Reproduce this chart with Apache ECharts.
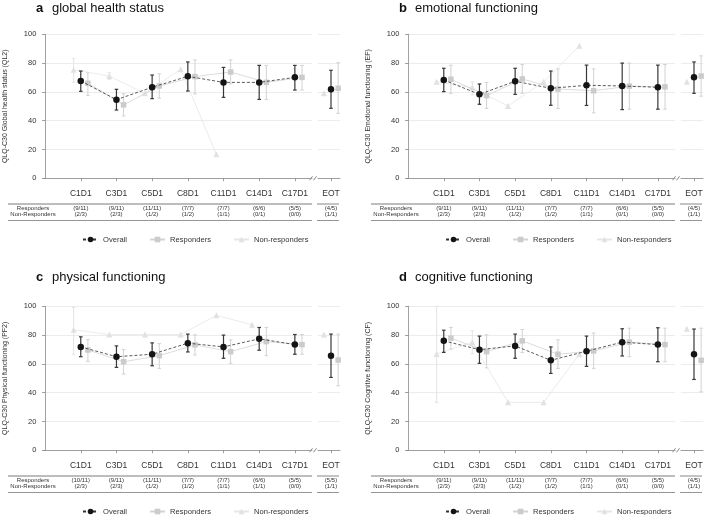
<!DOCTYPE html>
<html><head><meta charset="utf-8">
<script src="https://cdn.jsdelivr.net/npm/echarts@6/dist/echarts.min.js"></script>
<style>html,body{margin:0;padding:0;background:#fff}#c{width:706px;height:515px}</style>
</head><body><div id="c"></div>
<script>
// ---------- DATA ----------
const categories = ['C1D1','C3D1','C5D1','C8D1','C11D1','C14D1','C17D1','EOT'];
const seriesNames = ['Overall','Responders','Non-responders'];
const panelLetters = ['a','b','c','d'];
const panelTitles = ['global health status','emotional functioning','physical functioning','cognitive functioning'];
const yAxisNames = ['QLQ-C30 Global health status (QL2)','QLQ-C30 Emotional functioning (EF)','QLQ-C30 Physical functioning (PF2)','QLQ-C30 Cognitive functioning (CF)'];
const tableRowLabels = ['Responders','Non-Responders'];

// a: global health status
const ghsOverall   = [67.6, 54.6, 63.2, 70.8, 66.6, 66.6, 70.1, 61.8];
const ghsOverallLo = [60.4, 47.4, 55.3, 60.6, 56.2, 54.8, 61.3, 48.6];
const ghsOverallHi = [74.5, 61.8, 71.7, 80.8, 77.0, 78.4, 78.4, 75.0];
const ghsResp      = [66.0, 51.0, 64.1, 70.6, 73.8, 66.6, 70.1, 62.5];
const ghsRespLo    = [57.6, 43.3, 55.6, 58.6, 65.5, 54.8, 61.3, 45.1];
const ghsRespHi    = [73.4, 58.7, 72.6, 82.2, 82.2, 78.4, 78.4, 80.3];
const ghsNonResp   = [75.4, 71.0, 59.0, 75.7, 16.7, null, null, 59.0];
const ghsNonRespLo = [66.7, 68.8, null, null, null, null, null, null];
const ghsNonRespHi = [83.3, 73.4, null, null, null, null, null, null];
const ghsRespN     = ['(9/11)','(9/11)','(11/11)','(7/7)','(7/7)','(6/6)','(5/5)','(4/5)'];
const ghsNonRespN  = ['(2/3)','(2/3)','(1/2)','(1/2)','(1/1)','(0/1)','(0/0)','(1/1)'];

// b: emotional functioning
const efOverall    = [68.3, 58.3, 67.4, 62.5, 64.6, 64.1, 63.2, 70.1];
const efOverallLo  = [60.2, 51.4, 58.3, 50.7, 50.6, 47.7, 48.0, 59.0];
const efOverallHi  = [76.4, 65.5, 76.4, 74.5, 78.6, 80.0, 78.6, 80.8];
const efResp       = [68.8, 57.4, 69.0, 62.0, 60.8, 64.0, 63.5, 71.0];
const efRespLo     = [59.0, 48.5, 59.0, 48.5, 45.5, 48.0, 48.0, 57.0];
const efRespHi     = [78.5, 66.5, 79.0, 76.0, 76.0, 80.0, 79.0, 85.0];
const efNonResp    = [67.1, 63.0, 50.2, 67.1, 92.1, null, null, 67.1];
const efNonRespLo  = [null, 58.0, null, null, null, null, null, null];
const efNonRespHi  = [null, 67.0, null, null, null, null, null, null];
const efRespN      = ['(9/11)','(9/11)','(11/11)','(7/7)','(7/7)','(6/6)','(5/5)','(4/5)'];
const efNonRespN   = ['(2/3)','(2/3)','(1/2)','(1/2)','(1/1)','(0/1)','(0/0)','(1/1)'];

// c: physical functioning
const pfOverall    = [71.8, 65.0, 66.7, 74.4, 71.8, 77.4, 73.4, 65.7];
const pfOverallLo  = [65.0, 57.6, 58.7, 68.3, 63.9, 69.5, 66.7, 50.6];
const pfOverallHi  = [78.8, 72.5, 74.6, 80.7, 80.0, 85.3, 80.4, 80.7];
const pfResp       = [69.7, 61.5, 65.7, 73.2, 68.5, 75.5, 73.4, 62.7];
const pfRespLo     = [61.8, 52.9, 56.9, 66.2, 60.4, 65.7, 66.7, 44.8];
const pfRespHi     = [76.9, 69.9, 74.1, 80.2, 76.7, 85.3, 80.4, 80.7];
const pfNonResp    = [83.7, 80.4, 80.4, 80.4, 93.7, 87.2, null, 80.4];
const pfNonRespLo  = [66.7, null, null, null, null, null, null, null];
const pfNonRespHi  = [99.3, null, null, null, null, null, null, null];
const pfRespN      = ['(10/11)','(9/11)','(11/11)','(7/7)','(7/7)','(6/6)','(5/5)','(5/5)'];
const pfNonRespN   = ['(2/3)','(2/3)','(1/2)','(1/2)','(1/1)','(1/1)','(0/0)','(1/1)'];

// d: cognitive functioning
const cfOverall    = [76.0, 69.9, 72.5, 62.5, 68.8, 75.1, 73.4, 66.7];
const cfOverallLo  = [68.0, 60.4, 63.9, 53.4, 58.3, 65.5, 61.5, 49.2];
const cfOverallHi  = [83.4, 79.3, 80.7, 71.8, 79.3, 84.4, 85.1, 84.2];
const cfResp       = [77.9, 68.5, 76.0, 66.7, 69.0, 75.1, 73.4, 62.5];
const cfRespLo     = [70.2, 57.3, 68.0, 56.9, 56.9, 65.0, 61.5, 40.6];
const cfRespHi     = [85.3, 80.2, 83.9, 76.7, 81.4, 84.8, 84.8, 84.8];
const cfNonResp    = [66.9, 75.1, 33.3, 33.3, 66.7, null, null, 84.4];
const cfNonRespLo  = [33.3, 67.0, null, null, null, null, null, null];
const cfNonRespHi  = [100.0, 83.0, null, null, null, null, null, null];
const cfRespN      = ['(9/11)','(9/11)','(11/11)','(7/7)','(7/7)','(6/6)','(5/5)','(4/5)'];
const cfNonRespN   = ['(2/3)','(2/3)','(1/2)','(1/2)','(1/1)','(0/1)','(0/0)','(1/1)'];

// ---------- BUILD ----------
const FONT = 'Liberation Sans, Arial, sans-serif';
const panels = [
  {groups:[[ghsOverall,ghsOverallLo,ghsOverallHi],[ghsResp,ghsRespLo,ghsRespHi],[ghsNonResp,ghsNonRespLo,ghsNonRespHi]], rn:ghsRespN, nn:ghsNonRespN},
  {groups:[[efOverall,efOverallLo,efOverallHi],[efResp,efRespLo,efRespHi],[efNonResp,efNonRespLo,efNonRespHi]], rn:efRespN, nn:efNonRespN},
  {groups:[[pfOverall,pfOverallLo,pfOverallHi],[pfResp,pfRespLo,pfRespHi],[pfNonResp,pfNonRespLo,pfNonRespHi]], rn:pfRespN, nn:pfNonRespN},
  {groups:[[cfOverall,cfOverallLo,cfOverallHi],[cfResp,cfRespLo,cfRespHi],[cfNonResp,cfNonRespLo,cfNonRespHi]], rn:cfRespN, nn:cfNonRespN}
];
const OX = [0, 363, 0, 363], OY = [0, 0, 272, 272];
const TITLE_Y = [8.5, 8.5, 277.5, 277.5];
const sty = [
  {color:'#141414', line:'#333333', type:[3,2], symbol:'circle', size:6.5, err:'#383838', errW:1.2, z:6, off:0},
  {color:'#cbcbcb', line:'#d3d3d3', type:'solid', symbol:'rect', size:5.5, err:'#d2d2d2', errW:1, z:4, off:0.2},
  {color:'#e1e1e1', line:'#e6e6e6', type:'solid', symbol:'triangle', size:6, err:'#e4e4e4', errW:1, z:3, off:-0.2}
];
const grids = [], xAxes = [], yAxes = [], series = [], legends = [], graphics = [];
const rich = {
  c:{fontSize:8.5, lineHeight:10, color:'#333', fontFamily:FONT},
  s:{fontSize:2, lineHeight:7.4},
  t:{fontSize:6, lineHeight:6, color:'#333', fontFamily:FONT}
};
function errRender(color, w){
  return function(params, api){
    const x = api.value(0), lo = api.value(1), hi = api.value(2);
    const a = api.coord([x, lo]), b = api.coord([x, hi]);
    const cw = 1.8;
    const st = {stroke:color, lineWidth:w};
    return {type:'group', children:[
      {type:'line', shape:{x1:a[0],y1:a[1],x2:b[0],y2:b[1]}, style:st},
      {type:'line', shape:{x1:a[0]-cw,y1:a[1],x2:a[0]+cw,y2:a[1]}, style:st},
      {type:'line', shape:{x1:b[0]-cw,y1:b[1],x2:b[0]+cw,y2:b[1]}, style:st}
    ]};
  };
}
panels.forEach((P, p) => {
  const ox = OX[p], oy = OY[p];
  const gi = 2*p, ge = 2*p+1;
  grids.push({left:ox+43.3, top:oy+34.3, width:268.7, height:144});
  grids.push({left:ox+318, top:oy+34.3, width:22, height:144});
  const fmt = i => '{c|' + categories[i] + '}\n{s| }\n{t|' + P.rn[i] + '}\n{t|' + P.nn[i] + '}';
  const axLine = {show:true, lineStyle:{color:'#8a8a8a', width:0.8}};
  xAxes.push({gridIndex:gi, type:'value', min:-0.05, max:7.48,
    axisLine:axLine,
    axisTick:{show:true, length:3, lineStyle:{color:'#8a8a8a', width:0.8}, customValues:[1,2,3,4,5,6,7]},
    axisLabel:{show:true, customValues:[1,2,3,4,5,6,7], margin:10, formatter:v => fmt(Math.round(v)-1), rich},
    splitLine:{show:false}});
  xAxes.push({gridIndex:ge, type:'value', min:-0.364, max:0.252,
    axisLine:axLine,
    axisTick:{show:true, length:3, lineStyle:{color:'#8a8a8a', width:0.8}, customValues:[0]},
    axisLabel:{show:true, customValues:[0], margin:10, formatter:() => fmt(7), rich},
    splitLine:{show:false}});
  yAxes.push({gridIndex:gi, type:'value', min:0, max:100, interval:20,
    name:yAxisNames[p], nameLocation:'middle', nameGap:35,
    nameTextStyle:{fontSize:7, color:'#333', fontFamily:FONT},
    axisLine:axLine, axisTick:{show:true, length:3, lineStyle:{color:'#8a8a8a', width:0.8}},
    axisLabel:{fontSize:7.5, color:'#333', margin:7, fontFamily:FONT},
    splitLine:{show:true, lineStyle:{color:'#ececec', width:1}}});
  yAxes.push({gridIndex:ge, type:'value', min:0, max:100, interval:20,
    axisLine:{show:false}, axisTick:{show:false}, axisLabel:{show:false},
    splitLine:{show:true, lineStyle:{color:'#ececec', width:1}}});
  P.groups.forEach((G, k) => {
    const s = sty[k], name = seriesNames[k];
    const [m, lo, hi] = G;
    const lineMain = [], errMain = [], lineEot = [], errEot = [];
    for (let i = 0; i < 7; i++) {
      if (m[i] != null) lineMain.push([i+1+s.off, m[i]]);
      if (lo[i] != null) errMain.push([i+1+s.off, lo[i], hi[i]]);
    }
    if (m[7] != null) lineEot.push([s.off, m[7]]);
    if (lo[7] != null) errEot.push([s.off, lo[7], hi[7]]);
    [[gi, lineMain, errMain], [ge, lineEot, errEot]].forEach(([ax, ld, ed]) => {
      series.push({type:'custom', name:name+' CI', xAxisIndex:ax, yAxisIndex:ax, data:ed,
        renderItem:errRender(s.err, s.errW), encode:{x:0, y:[1,2]}, z:s.z, silent:true, clip:false});
      series.push({type:'line', name, xAxisIndex:ax, yAxisIndex:ax, data:ld,
        symbol:s.symbol, symbolSize:s.size, showSymbol:true, clip:false,
        itemStyle:{color:s.color}, lineStyle:{color:s.line, width:0.8, type:s.type}, z:s.z+1, silent:true});
    });
  });
  legends.push({data:seriesNames, left:ox+82, top:oy+235.5, padding:0, itemWidth:15, itemHeight:7, itemGap:22,
    selectedMode:false, textStyle:{fontSize:7.6, color:'#333', fontFamily:FONT}});
  // titles
  graphics.push({type:'text', x:ox+36, y:TITLE_Y[p], style:{text:panelLetters[p], fill:'#111', font:'bold 13px ' + FONT, verticalAlign:'middle'}});
  graphics.push({type:'text', x:ox+52, y:TITLE_Y[p], style:{text:panelTitles[p], fill:'#111', font:'13px ' + FONT, verticalAlign:'middle'}});
  // table row labels
  tableRowLabels.forEach((t, r) => {
    graphics.push({type:'text', x:ox+33, y:oy+208.7+6*r, style:{text:t, fill:'#333', font:'6px ' + FONT, align:'center', verticalAlign:'middle'}});
  });
  // table rules
  graphics.push({type:'line', shape:{x1:ox+8, y1:oy+204, x2:ox+312, y2:oy+204}, style:{stroke:'#bdbdbd', lineWidth:1.8}});
  graphics.push({type:'line', shape:{x1:ox+317, y1:oy+204, x2:ox+339, y2:oy+204}, style:{stroke:'#bdbdbd', lineWidth:1.8}});
  graphics.push({type:'line', shape:{x1:ox+8, y1:oy+220.5, x2:ox+312, y2:oy+220.5}, style:{stroke:'#7a7a7a', lineWidth:0.8}});
  graphics.push({type:'line', shape:{x1:ox+317, y1:oy+220.5, x2:ox+339, y2:oy+220.5}, style:{stroke:'#7a7a7a', lineWidth:0.8}});
  // axis break marks
  graphics.push({type:'line', shape:{x1:ox+309.5, y1:oy+180.3, x2:ox+312.5, y2:oy+176.3}, style:{stroke:'#666', lineWidth:0.8}});
  graphics.push({type:'line', shape:{x1:ox+313.5, y1:oy+180.3, x2:ox+316.5, y2:oy+176.3}, style:{stroke:'#666', lineWidth:0.8}});
});

const chart = echarts.init(document.getElementById('c'), null, {renderer:'canvas'});
chart.setOption({
  animation:false,
  backgroundColor:'#fff',
  textStyle:{fontFamily:FONT},
  grid:grids, xAxis:xAxes, yAxis:yAxes, series, legend:legends, graphic:graphics
});
</script></body></html>
